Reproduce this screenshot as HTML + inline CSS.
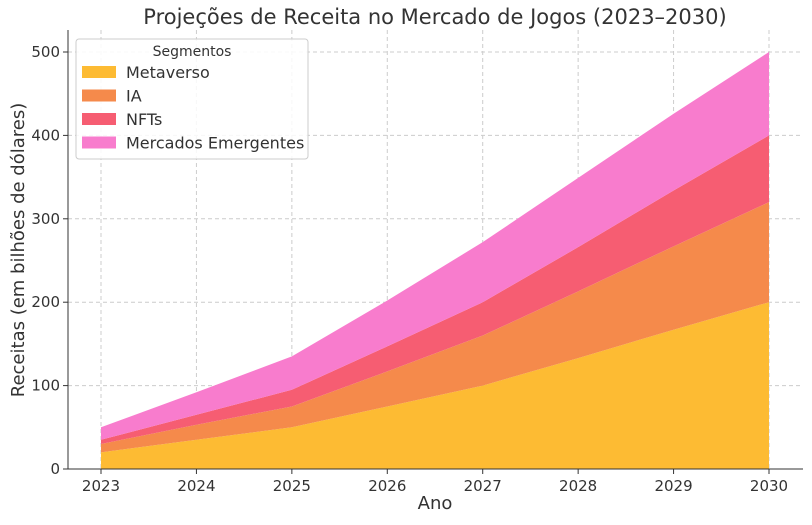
<!DOCTYPE html>
<html><head><meta charset="utf-8"><style>
body{margin:0;background:#fff;font-family:"Liberation Sans","DejaVu Sans",sans-serif;}
svg text{font-family:"DejaVu Sans","Liberation Sans",sans-serif;fill:#333;}
</style></head><body>
<svg id="chart" width="812" height="520" xmlns="http://www.w3.org/2000/svg">
<text x="435" y="24" font-size="21" text-anchor="middle">Projeções de Receita no Mercado de Jogos (2023–2030)</text>
<g id="grid"></g><g id="areas"></g><g id="axes"></g>
<text x="435" y="509" font-size="18" text-anchor="middle">Ano</text>
<text transform="translate(24,250) rotate(-90)" font-size="18" text-anchor="middle">Receitas (em bilhões de dólares)</text>
<g id="legend"></g>
</svg>
<script>
const years=[2023,2024,2025,2026,2027,2028,2029,2030];
const metaverso=[20,35,50,75,100,133,167,200];
const ia=[10,18,25,42,60,80,100,120];
const nfts=[5,12,20,30,40,53,67,80];
const emergentes=[15,27,40,55,72,83,92,100];
const yTicks=[0,100,200,300,400,500];
const seriesNames=["Metaverso","IA","NFTs","Mercados Emergentes"];
const colors=["#fdbb33","#f58a4b","#f65d72","#f87ccd"];
const NS="http://www.w3.org/2000/svg";
const L=68,R=803,T=30,B=469;
const x=v=>101+(v-2023)*(769-101)/7;
const y=v=>B-v*(B-52)/500;
function mk(t,a,p){const e=document.createElementNS(NS,t);for(const k in a)e.setAttribute(k,a[k]);p.appendChild(e);return e;}
const grid=document.getElementById('grid'),axes=document.getElementById('axes'),areas=document.getElementById('areas');
years.forEach(yr=>{
 const l=mk('line',{x1:x(yr),x2:x(yr),y1:T,y2:B,stroke:'#ccc','stroke-dasharray':'4,3'},grid);
 
 
 const t=mk('text',{x:x(yr),y:B+22,'font-size':15,'text-anchor':'middle'},axes);t.textContent=yr;
 
 
 mk('line',{x1:x(yr),x2:x(yr),y1:B,y2:B+5,stroke:'#333'},axes);
});
yTicks.forEach(v=>{
 const l=mk('line',{x1:L,x2:R,y1:y(v),y2:y(v),stroke:'#ccc','stroke-dasharray':'4,3'},grid);
 
 
 const t=mk('text',{x:L-8,y:y(v)+5,'font-size':15,'text-anchor':'end'},axes);t.textContent=v;
 
 
 mk('line',{x1:L-5,x2:L,y1:y(v),y2:y(v),stroke:'#333'},axes);
});
mk('line',{x1:L,x2:L,y1:T,y2:B,stroke:'#333'},axes);
mk('line',{x1:L,x2:R,y1:B,y2:B,stroke:'#333'},axes);
const data=[metaverso,ia,nfts,emergentes];
let base=years.map(()=>0);
data.forEach((s,i)=>{
 const top=base.map((b,j)=>b+s[j]);
 let d='M'+years.map((yr,j)=>x(yr)+','+y(top[j])).join(' L');
 d+=' L'+years.slice().reverse().map((yr,j)=>x(yr)+','+y(base[years.length-1-j])).join(' L')+'Z';
 const p=mk('path',{d:d,fill:colors[i]},areas);
 
 
 base=top;
});
const lg=document.getElementById('legend');
mk('rect',{x:76,y:39,width:232,height:120,rx:3,fill:'#fff','fill-opacity':0.85,stroke:'#ccc'},lg);
const lt=mk('text',{x:192,y:56,'font-size':14,'text-anchor':'middle'},lg);lt.textContent='Segmentos';
seriesNames.forEach((n,i)=>{
 const r=mk('rect',{x:82,y:66+i*23.5,width:34,height:12,fill:colors[i]},lg);
 
 
 const t=mk('text',{x:126,y:78+i*23.5,'font-size':16},lg);t.textContent=n;
 
 
});
</script>
</body></html>
